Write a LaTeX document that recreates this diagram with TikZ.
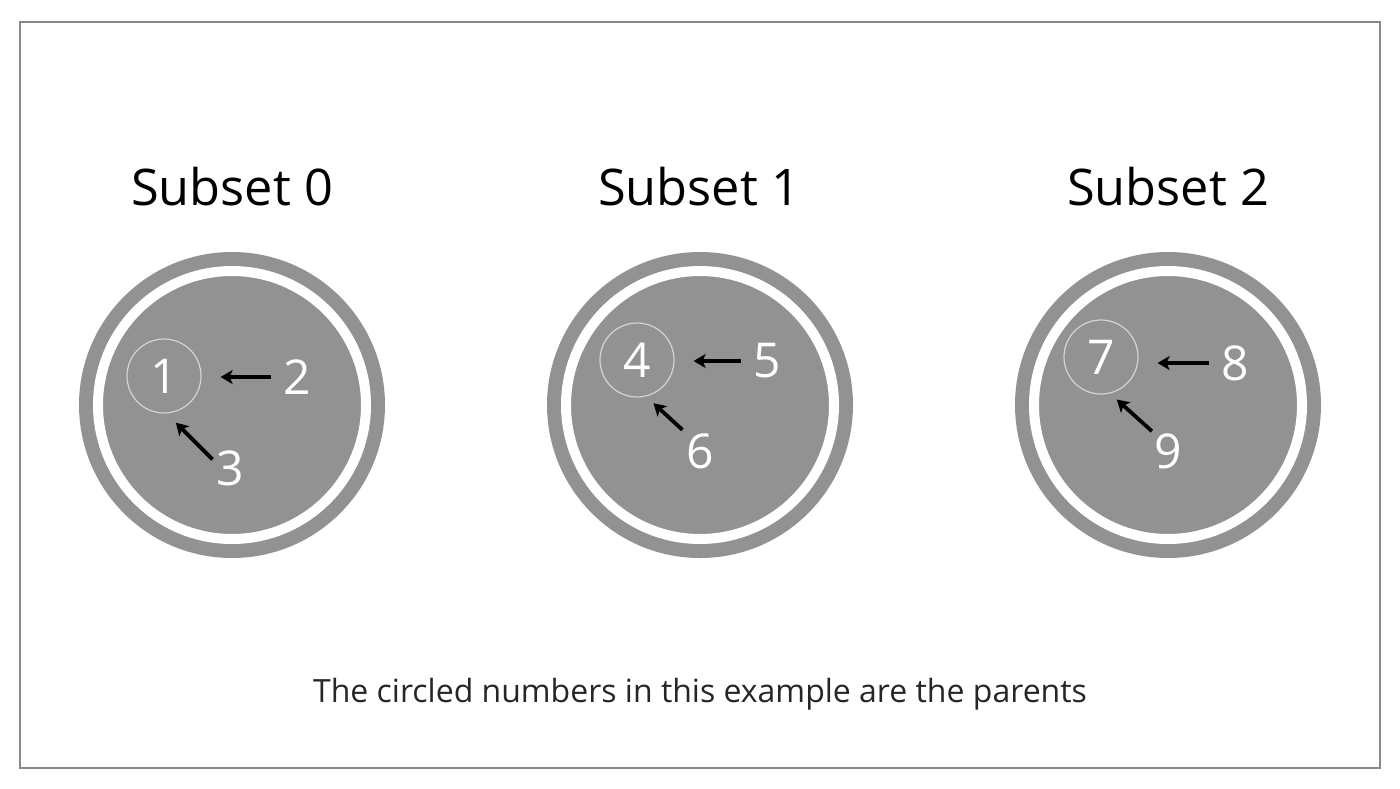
\documentclass[tikz,border=0pt]{standalone}
\usepackage{fontspec}
\setmainfont{Open Sans}
\usetikzlibrary{arrows.meta, positioning}
\definecolor{discgray}{HTML}{929292}
\definecolor{framegray}{HTML}{8A8A8A}
\definecolor{ringgray}{HTML}{D4D4D4}

\begin{document}
\begin{tikzpicture}[x=1pt, y=-1pt,
    >={Stealth[length=12pt, width=14pt, inset=3pt]},
    disc/.style={circle, fill=discgray, inner sep=0pt, minimum size=306pt},
    ring/.style={circle, draw=white, line width=10pt, inner sep=0pt, minimum size=268pt},
    parent/.style={circle, draw=ringgray, line width=1.2pt, inner sep=0pt, minimum size=74pt, text=white, font=\fontsize{48}{50}\selectfont},
    child/.style={inner sep=0pt, text=white, font=\fontsize{48}{50}\selectfont},
    title/.style={anchor=base, font=\fontsize{50.5}{60}\selectfont},
    caption/.style={anchor=base, text=black!85, font=\fontsize{32}{36}\selectfont},
    arr/.style={->, line width=3.8pt, black, shorten >=19pt, shorten <=12pt}
    ]
    \useasboundingbox (0,0) rectangle (1400,788);
    \draw[framegray, line width=2pt] (19.5,21.5) rectangle (1380,768);
    % Titles
    \node[title] (S0) at (232,205) {Subset 0};
    \node[title] (S1) at (699,205) {Subset 1};
    \node[title] (S2) at (1168,205) {Subset 2};
    % Discs
    \node[disc] (D0) at (232,405) {};
    \node[ring] (R0) at (D0) {};
    \node[disc] (D1) at (700,405) {};
    \node[ring] (R1) at (D1) {};
    \node[disc] (D2) at (1168,405) {};
    \node[ring] (R2) at (D2) {};
    % Nodes
    \node[parent] (P1) at (164,376) {\raisebox{-2pt}{1}};
    \node[child] (N2) at (297,377) {2};
    \node[child] (N3) at (230,468) {3};
    \node[parent] (P4) at (637,360) {\raisebox{-2pt}{4}};
    \node[child] (N5) at (767,361) {5};
    \node[child] (N6) at (700,451) {6};
    \node[parent] (P7) at (1101,357) {\raisebox{-2pt}{7}};
    \node[child] (N8) at (1235,363) {8};
    \node[child] (N9) at (1168,451) {9};
    \node[caption] (CAP) at (700,702) {The circled numbers in this example are the parents};
    % Edges
    \path (N2.west) edge [arr] (N2.west -| P1.east);
    \path (N3.160) edge [arr, shorten >=13pt, shorten <=5pt] (P1.-86);
    \path (N5.west) edge [arr] (N5.west -| P4.east);
    \path (N6.north west) edge [arr, shorten >=10pt, shorten <=5pt] (P4.-76);
    \path (N8.west) edge [arr] (N8.west -| P7.east);
    \path (N9.north west) edge [arr, shorten >=9pt, shorten <=3pt] (P7.-76);
\end{tikzpicture}
\end{document}
